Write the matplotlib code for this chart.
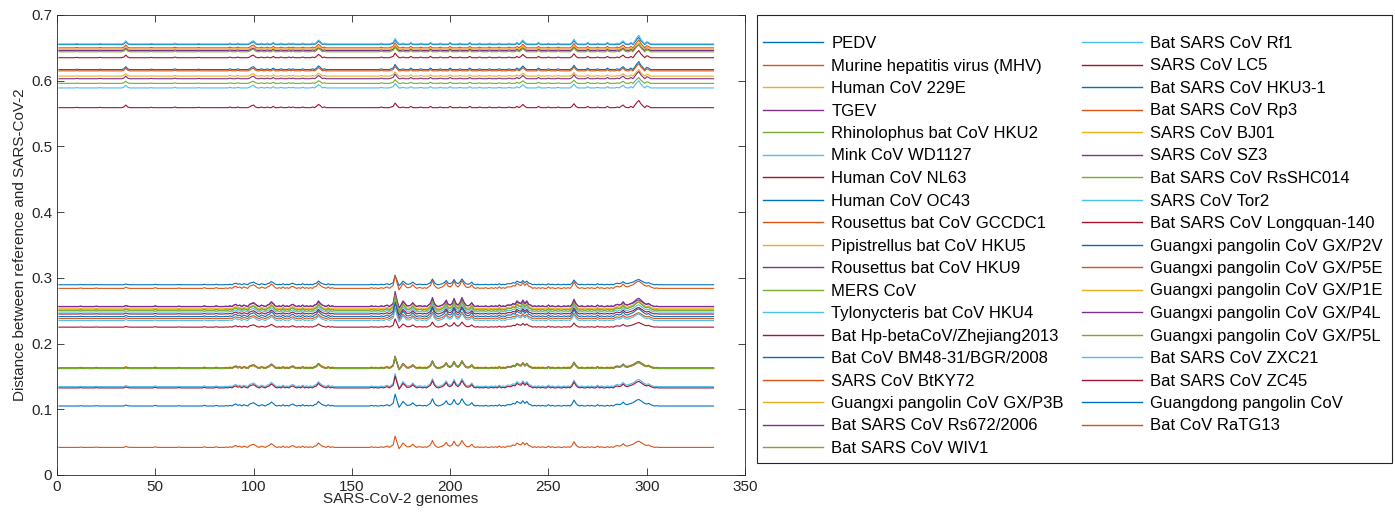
import numpy as np
import matplotlib.pyplot as plt
from matplotlib.patches import Rectangle

plt.rcParams['font.family'] = ['Liberation Sans', 'DejaVu Sans']

# MATLAB default colour order
colors = ['#0072BD', '#D95319', '#EDB120', '#7E2F8E', '#77AC30', '#4DBEEE', '#A2142F']

names = [
    "PEDV", "Murine hepatitis virus (MHV)", "Human CoV 229E", "TGEV",
    "Rhinolophus bat CoV HKU2", "Mink CoV WD1127", "Human CoV NL63", "Human CoV OC43",
    "Rousettus bat CoV GCCDC1", "Pipistrellus bat CoV HKU5", "Rousettus bat CoV HKU9",
    "MERS CoV", "Tylonycteris bat CoV HKU4", "Bat Hp-betaCoV/Zhejiang2013",
    "Bat CoV BM48-31/BGR/2008", "SARS CoV BtKY72", "Guangxi pangolin CoV GX/P3B",
    "Bat SARS CoV Rs672/2006", "Bat SARS CoV WIV1", "Bat SARS CoV Rf1", "SARS CoV LC5",
    "Bat SARS CoV HKU3-1", "Bat SARS CoV Rp3", "SARS CoV BJ01", "SARS CoV SZ3",
    "Bat SARS CoV RsSHC014", "SARS CoV Tor2", "Bat SARS CoV Longquan-140",
    "Guangxi pangolin CoV GX/P2V", "Guangxi pangolin CoV GX/P5E", "Guangxi pangolin CoV GX/P1E",
    "Guangxi pangolin CoV GX/P4L", "Guangxi pangolin CoV GX/P5L", "Bat SARS CoV ZXC21",
    "Bat SARS CoV ZC45", "Guangdong pangolin CoV", "Bat CoV RaTG13",
]

# flat level of each curve
baseline = [
    0.655, 0.650, 0.648, 0.646, 0.644, 0.656, 0.635, 0.617, 0.615, 0.607,
    0.603, 0.596, 0.589, 0.559, 0.2895, 0.284, 0.1635, 0.256, 0.251, 0.248,
    0.245, 0.241, 0.238, 0.253, 0.2565, 0.2505, 0.235, 0.225, 0.1625, 0.162,
    0.163, 0.1625, 0.162, 0.1345, 0.1325, 0.105, 0.042,
]

# how strongly each curve follows the common peaks
peak_scale = [
    1.0, 1.1, 0.9, 0.8, 1.0, 1.2, 1.0, 1.1, 1.0, 0.9,
    1.0, 0.8, 1.0, 1.0, 0.8, 1.1, 0.9, 1.3, 1.2, 1.1,
    1.0, 1.2, 0.9, 1.1, 1.0, 1.3, 1.0, 0.7, 1.0, 0.9,
    1.0, 1.0, 1.0, 1.1, 1.0, 1.0, 0.95,
]

n_genomes = 334

# peaks shared by the close relatives (genome index -> rise above flat level)
peaks_near = {
    12: 0.0005, 20: 0.0005, 35: 0.0015, 36: 0.0005, 50: 0.001, 62: 0.0005, 75: 0.001, 81: 0.001,
    86: 0.0005, 88: 0.001, 90: 0.002, 91: 0.003, 92: 0.001, 93: 0.002, 95: 0.002, 96: 0.001,
    98: 0.003, 99: 0.004, 100: 0.005, 101: 0.003, 102: 0.001, 104: 0.002, 105: 0.001,
    107: 0.002, 108: 0.003, 109: 0.006, 110: 0.004, 111: 0.001, 113: 0.001, 115: 0.002,
    117: 0.001, 119: 0.002, 120: 0.003, 121: 0.001, 123: 0.001, 125: 0.002, 127: 0.001,
    129: 0.001, 131: 0.002, 132: 0.003, 133: 0.007, 134: 0.004, 135: 0.002, 136: 0.001,
    138: 0.002, 140: 0.001, 160: 0.001, 162: 0.0005, 165: 0.001, 167: 0.001, 168: 0.002,
    170: 0.002, 171: 0.004, 172: 0.018, 173: 0.008, 174: -0.002, 175: 0.002, 176: 0.007,
    177: 0.004, 178: 0.001, 179: 0.001, 180: 0.002, 181: 0.005, 182: 0.002, 184: 0.001,
    185: 0.001, 187: 0.001, 189: 0.002, 190: 0.004, 191: 0.011, 192: 0.004, 193: 0.001,
    195: 0.001, 196: 0.002, 197: 0.004, 198: 0.008, 199: 0.003, 200: 0.002, 201: 0.004,
    202: 0.010, 203: 0.004, 204: 0.002, 205: 0.005, 206: 0.011, 207: 0.006, 208: 0.002,
    209: 0.001, 210: 0.002, 211: 0.005, 212: 0.001, 214: 0.001, 216: 0.0005, 218: 0.001,
    221: 0.001, 223: 0.001, 225: 0.002, 227: 0.001, 229: 0.002, 230: 0.002, 231: 0.002,
    232: 0.004, 233: 0.003, 234: 0.007, 235: 0.005, 236: 0.004, 237: 0.008, 238: 0.004,
    239: 0.007, 240: 0.003, 241: 0.002, 243: 0.001, 245: 0.001, 247: 0.001, 250: 0.002,
    252: 0.001, 255: 0.001, 258: 0.001, 260: 0.001, 262: 0.003, 263: 0.009, 264: 0.004,
    265: 0.001, 267: 0.001, 270: 0.001, 272: 0.001, 275: 0.002, 277: 0.001, 280: 0.001,
    282: 0.001, 284: 0.002, 285: 0.003, 286: 0.002, 287: 0.003, 288: 0.006, 289: 0.003,
    290: 0.002, 291: 0.003, 292: 0.004, 293: 0.005, 294: 0.007, 295: 0.009, 296: 0.010,
    297: 0.008, 298: 0.006, 299: 0.004, 300: 0.003, 301: 0.004, 302: 0.002, 303: 0.001,
    305: 0.0005,
}

# peaks of the distant (alpha / other beta) group
peaks_far = {
    10: 0.0005, 22: 0.0005, 34: 0.001, 35: 0.004, 36: 0.001, 48: 0.0005, 60: 0.001,
    72: 0.0005, 88: 0.001, 92: 0.001, 98: 0.001, 99: 0.003, 100: 0.004, 101: 0.001,
    104: 0.001, 107: 0.001, 110: 0.002, 114: 0.001, 118: 0.001, 120: 0.001, 125: 0.001,
    130: 0.001, 132: 0.002, 133: 0.005, 134: 0.003, 136: 0.001, 165: 0.001, 170: 0.001,
    171: 0.002, 172: 0.007, 173: 0.003, 176: 0.001, 180: 0.002, 185: 0.001, 190: 0.002,
    195: 0.001, 200: 0.002, 205: 0.001, 210: 0.002, 215: 0.001, 220: 0.001, 225: 0.001,
    230: 0.001, 234: 0.002, 236: 0.002, 237: 0.005, 238: 0.002, 245: 0.002, 250: 0.001,
    255: 0.001, 262: 0.002, 263: 0.006, 264: 0.002, 270: 0.002, 275: 0.001, 280: 0.002,
    285: 0.001, 287: 0.002, 288: 0.004, 289: 0.001, 292: 0.002, 294: 0.004, 295: 0.008,
    296: 0.011, 297: 0.006, 298: 0.003, 300: 0.003, 301: 0.002,
}

x = np.arange(1, n_genomes + 1)
prof_near = np.zeros(n_genomes)
for k, v in peaks_near.items():
    prof_near[k - 1] = v
prof_far = np.zeros(n_genomes)
for k, v in peaks_far.items():
    prof_far[k - 1] = v

W, H = 1395, 524
fig = plt.figure(figsize=(W / 100, H / 100), dpi=100)
ax = fig.add_axes([57 / W, 49 / H, 688 / W, 460 / H])

for i, name in enumerate(names):
    prof = prof_far if i < 14 else prof_near
    y = baseline[i] + peak_scale[i] * prof
    ax.plot(x, y, color=colors[i % 7], lw=0.8, label=name)

ax.set_xlim(0, 350)
ax.set_ylim(0, 0.7)
ax.set_xticks(np.arange(0, 351, 50))
ax.set_yticks(np.arange(0, 0.71, 0.1))
ax.set_yticklabels(['0', '0.1', '0.2', '0.3', '0.4', '0.5', '0.6', '0.7'])
ax.tick_params(direction='in', top=True, right=True, length=5, width=0.6,
               labelsize=11, colors='#262626')
for s in ax.spines.values():
    s.set_color('#262626')
    s.set_linewidth(0.6)
ax.set_xlabel("SARS-CoV-2 genomes", fontsize=11, color='#262626', labelpad=-1)
ax.set_ylabel("Distance between reference and SARS-CoV-2", fontsize=11, color='#262626', labelpad=3)

# legend box drawn separately so its edges sit where MATLAB put them
fig.patches.append(Rectangle((757 / W, 1 - 463 / H), 635 / W, 448 / H,
                             transform=fig.transFigure, fill=False,
                             edgecolor='#262626', lw=0.8))
leg = ax.legend(ncol=2, loc='upper left', bbox_to_anchor=(763 / W, 1 - 36 / H),
                bbox_transform=fig.transFigure, fontsize=12, frameon=False,
                handlelength=3.6, handletextpad=0.5, columnspacing=1.1,
                labelspacing=0.45, borderpad=0, borderaxespad=0)
for h in leg.legend_handles:
    h.set_linewidth(1.0)

fig.savefig("out.png", dpi=100)
